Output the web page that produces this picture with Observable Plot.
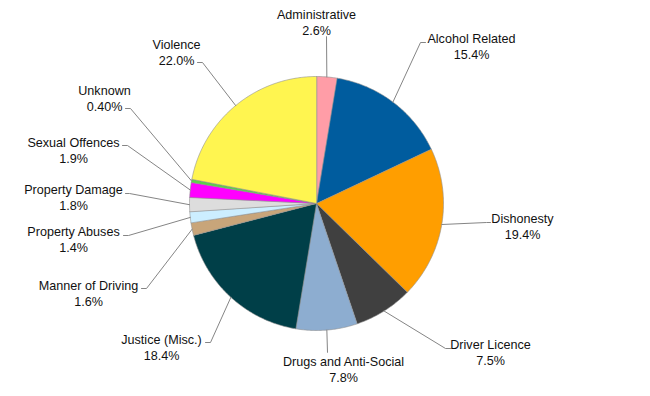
<!DOCTYPE html>
<html>
<head>
<meta charset="utf-8">
<script src="https://cdn.jsdelivr.net/npm/d3@7"></script>
<script src="https://cdn.jsdelivr.net/npm/@observablehq/plot@0.6"></script>
<style>
  html, body { margin: 0; padding: 0; background: #fff; }
  #chart { width: 650px; height: 396px; }
</style>
</head>
<body>
<div id="chart"></div>
<script>
// ---- data ----
const categories = ["Administrative", "Alcohol Related", "Dishonesty", "Driver Licence",
  "Drugs and Anti-Social", "Justice (Misc.)", "Manner of Driving", "Property Abuses",
  "Property Damage", "Sexual Offences", "Unknown", "Violence"];
const values = [2.6, 15.4, 19.4, 7.5, 7.8, 18.4, 1.6, 1.4, 1.8, 1.9, 0.4, 22.0];
const valueLabels = ["2.6%", "15.4%", "19.4%", "7.5%", "7.8%", "18.4%", "1.6%", "1.4%",
  "1.8%", "1.9%", "0.40%", "22.0%"];
const colors = ["#FF9DA7", "#005C9E", "#FF9E00", "#404040", "#8DADD0", "#003F48",
  "#C8A57A", "#CCEEFF", "#DDDDDD", "#FF00FF", "#5CD04A", "#FFF550"];

// ---- layout (pixel space) ----
const cx = 316, cy = 203, R = 127;
// label block centre and leader elbow/end points
const labelLayout = [
  {tx: 316, ty: 21,  ex: 326, ey: 36,  kx: 326, ky: 36},
  {tx: 471, ty: 45,  ex: 425, ey: 42,  kx: 420, ky: 42},
  {tx: 522, ty: 225, ex: 490, ey: 222, kx: 486, ky: 222},
  {tx: 490, ty: 351, ex: 450, ey: 348, kx: 445, ky: 348},
  {tx: 343, ty: 368, ex: 327, ey: 352, kx: 327, ky: 352},
  {tx: 161, ty: 346, ex: 205, ey: 342, kx: 210, ky: 342},
  {tx: 88,  ty: 292, ex: 141, ey: 288, kx: 146, ky: 288},
  {tx: 73,  ty: 238, ex: 123, ey: 235, kx: 128, ky: 235},
  {tx: 73,  ty: 196, ex: 125, ey: 193, kx: 129, ky: 193},
  {tx: 73,  ty: 149, ex: 122, ey: 145, kx: 127, ky: 145},
  {tx: 104, ty: 97,  ex: 125, ey: 108, kx: 130, ky: 108},
  {tx: 176, ty: 51,  ex: 197, ey: 62,  kx: 202, ky: 62}
];

const arcs = d3.pie().sort(null).value(d => d)(values);

// slice polygons built from pie angles
const slicePts = [];
arcs.forEach((a, i) => {
  const cat = categories[i];
  slicePts.push({cat, x: cx, y: cy});
  const n = Math.max(2, Math.ceil((a.endAngle - a.startAngle) / 0.01));
  for (let k = 0; k <= n; k++) {
    const t = a.startAngle + (a.endAngle - a.startAngle) * k / n;
    slicePts.push({cat, x: cx + R * Math.sin(t), y: cy - R * Math.cos(t)});
  }
});

// leader lines
const leaderPts = [];
arcs.forEach((a, i) => {
  const m = (a.startAngle + a.endAngle) / 2;
  const L = labelLayout[i];
  const cat = categories[i];
  leaderPts.push({cat, x: cx + R * Math.sin(m), y: cy - R * Math.cos(m)});
  leaderPts.push({cat, x: L.kx, y: L.ky});
  leaderPts.push({cat, x: L.ex, y: L.ey});
});

const labels = categories.map((c, i) => ({
  cat: c, x: labelLayout[i].tx, y: labelLayout[i].ty, text: c + "\n" + valueLabels[i]
}));

const chart = Plot.plot({
  width: 650,
  height: 396,
  margin: 0,
  x: {domain: [0, 650], range: [0, 650], axis: null},
  y: {domain: [0, 396], range: [0, 396], axis: null},
  color: {domain: categories, range: colors},
  style: {fontFamily: "'Liberation Sans', Arial, sans-serif", background: "#fff"},
  marks: [
    Plot.line(slicePts, {x: "x", y: "y", z: "cat", fill: "cat", stroke: "#8f8f8f",
      strokeWidth: 0.6, curve: "linear-closed"}),
    Plot.line(leaderPts, {x: "x", y: "y", z: "cat", stroke: "#858585", strokeWidth: 1}),
    Plot.text(labels, {x: "x", y: "y", text: "text", fontSize: 12.6, lineHeight: 1.27,
      fill: "#111", textAnchor: "middle", lineAnchor: "middle"})
  ]
});
document.getElementById("chart").appendChild(chart);
</script>
</body>
</html>
